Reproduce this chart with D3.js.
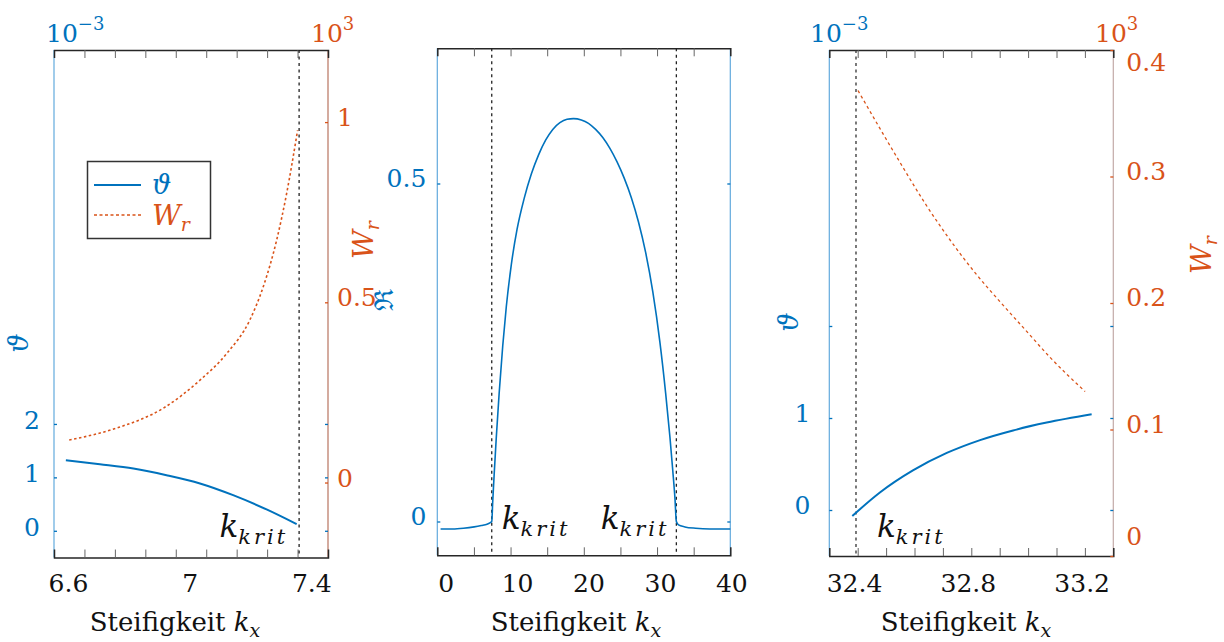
<!DOCTYPE html>
<html>
<head>
<meta charset="utf-8">
<script src="https://cdn.jsdelivr.net/npm/d3@7"></script>
<style>
  html, body { margin: 0; padding: 0; background: #fff; }
  svg { display: block; }
</style>
</head>
<body>
<svg id="chart" width="1224" height="642" font-family="DejaVu Serif, serif"></svg>
<script>
// ---------- data ----------
// left panel: neighbourhood of the lower critical stiffness
const leftThetaK = [6.593, 6.705, 6.815, 6.924, 7.034, 7.143, 7.253, 7.352];
const leftTheta  = [1.321, 1.247, 1.166, 1.041, 0.886, 0.667, 0.400, 0.125];   // x 10^-3
const leftWrK    = [6.604, 6.760, 6.913, 7.034, 7.122, 7.198, 7.242, 7.286, 7.319, 7.355];
const leftWr     = [0.118, 0.151, 0.206, 0.284, 0.358, 0.451, 0.543, 0.672, 0.802, 0.977]; // x 10^3
const leftKKrit  = 7.36;

// middle panel: real part over the full stiffness range
const midK  = [-0.7, 1.0, 2.5, 4.0, 5.0, 5.8, 6.2, 6.46, 6.6, 6.8, 7.1, 7.5, 8.0, 8.5, 9.2, 10.0,
               11.0, 12.0, 13.0, 14.0, 15.0, 16.0, 17.0, 17.9, 19.0, 20.0, 21.0, 22.0, 23.0, 24.0,
               25.0, 26.0, 27.0, 28.0, 29.0, 30.0, 30.8, 31.4, 31.8, 32.1, 32.3, 32.6, 33.5, 35.0,
               37.0, 39.85];
const midRe = [-0.011, -0.011, -0.010, -0.008, -0.006, -0.004, -0.002, 0.0, 0.03, 0.07, 0.125, 0.19,
               0.26, 0.318, 0.38, 0.432, 0.478, 0.514, 0.542, 0.564, 0.58, 0.59, 0.595, 0.596, 0.594,
               0.589, 0.58, 0.568, 0.552, 0.532, 0.508, 0.479, 0.443, 0.398, 0.34, 0.265, 0.19, 0.125,
               0.075, 0.035, 0.0, -0.005, -0.008, -0.010, -0.011, -0.011];
const midKKrit = [6.46, 32.3];

// right panel: neighbourhood of the upper critical stiffness
const rightThetaK = [32.394, 32.491, 32.607, 32.726, 32.843, 32.959, 33.077, 33.235];
const rightTheta  = [-0.065, 0.19, 0.43, 0.62, 0.76, 0.865, 0.95, 1.04];
const rightWrK    = [32.414, 32.491, 32.562, 32.649, 32.737, 32.825, 32.913, 33.001, 33.089, 33.212];
const rightWr     = [0.368, 0.338, 0.311, 0.279, 0.250, 0.224, 0.201, 0.179, 0.157, 0.130];
const rightKKrit  = 32.407;

// tick labels
const leftXTicks      = [6.6, 7, 7.4];
const leftThetaTicks  = [0, 1, 2];
const leftWrTicks     = [0, 0.5, 1];
const midXTicks       = [0, 10, 20, 30, 40];
const midReTicks      = [0, 0.5];
const rightXTicks     = [32.4, 32.8, 33.2];
const rightThetaTicks = [0, 1, 2];
const rightThetaLabels = [0, 1];
const rightWrTicks    = [0, 0.1, 0.2, 0.3, 0.4];

// ---------- style ----------
const BLUE = "#0072BD", ORANGE = "#D95319";
const AX_BLUE = "#62aadd", AX_BROWN = "#b8735f", AX_GREY = "#c2aaa7", FRAME = "#262626";
const FONT = "DejaVu Serif";
const FS = 25;

const svg = d3.select("#chart");

function fmt(v) { return d3.format("~g")(v); }

// frame: top and bottom axes with evenly spaced unlabelled ticks
function frame(g, x0, x1, y0, y1, nDiv) {
  const s = d3.scaleLinear().domain([0, nDiv]).range([x0, x1]);
  const inner = d3.range(1, nDiv);
  const top = g.append("g").attr("transform", `translate(0,${y0})`)
    .call(d3.axisBottom(s).tickValues(inner).tickSize(8).tickFormat(""));
  const bot = g.append("g").attr("transform", `translate(0,${y1})`)
    .call(d3.axisTop(s).tickValues(inner).tickSize(8).tickFormat(""));
  [top, bot].forEach(a => {
    a.select(".domain").attr("stroke", FRAME).attr("stroke-width", 1.5);
    a.selectAll(".tick line").attr("stroke", "#666").attr("stroke-width", 1);
  });
}

function vline(g, x, y0, y1, color) {
  g.append("line").attr("x1", x).attr("x2", x).attr("y1", y0).attr("y2", y1)
    .attr("stroke", color).attr("stroke-width", 1.2);
}

// y axis with inward ticks; labels optionally shifted
function yAxis(g, scale, xPos, side, values, labels, color, tickColor, pad, shift) {
  const ax = (side === "left" ? d3.axisLeft(scale) : d3.axisRight(scale))
    .tickValues(values).tickSize(-3).tickPadding(pad)
    .tickFormat(v => (labels && labels.includes(v)) ? fmt(v) : "");
  const a = g.append("g").attr("transform", `translate(${xPos},0)`).call(ax);
  a.select(".domain").remove();
  a.attr("font-family", FONT);
  a.selectAll(".tick line").attr("stroke", tickColor).attr("stroke-width", 1.3);
  a.selectAll(".tick text").attr("fill", color).attr("font-size", FS)
    .attr("font-family", FONT).attr("dy", null)
    .attr("y", d => shift(d)).attr("dominant-baseline", "central");
  return a;
}

function xLabels(g, scale, y, values) {
  const a = g.append("g").attr("transform", `translate(0,${y})`)
    .call(d3.axisBottom(scale).tickValues(values).tickSize(0).tickPadding(0).tickFormat(fmt));
  a.select(".domain").remove();
  a.attr("font-family", FONT);
  a.selectAll(".tick text").attr("fill", "#111").attr("font-size", FS)
    .attr("font-family", FONT).attr("dy", null).attr("y", 0);
}

function kLabel(g, x, y, anchor) {
  const t = g.append("text").attr("x", x).attr("y", y).attr("text-anchor", anchor)
    .attr("fill", "#111").attr("font-style", "italic").attr("font-family", FONT);
  t.append("tspan").attr("font-size", 31).text("k");
  t.append("tspan").attr("font-size", 21).attr("dy", 7).attr("letter-spacing", 3).text("krit");
}

function xTitle(g, cx) {
  const t = g.append("text").attr("x", cx).attr("y", 631).attr("text-anchor", "middle")
    .attr("fill", "#111").attr("font-size", 26).attr("font-family", FONT);
  t.append("tspan").text("Steifigkeit ");
  t.append("tspan").attr("font-style", "italic").text("k");
  t.append("tspan").attr("font-style", "italic").attr("font-size", 19).attr("dy", 6).text("x");
}

function power(g, x, y, exp, color) {
  const t = g.append("text").attr("x", x).attr("y", y).attr("fill", color).attr("font-size", FS)
    .attr("font-family", FONT);
  t.append("tspan").text("10");
  t.append("tspan").attr("font-size", 18).attr("dy", -12).text(exp);
}

function rotLabel(g, cx, cy, color, parts) {
  const t = g.append("text").attr("transform", `translate(${cx},${cy}) rotate(-90)`)
    .attr("text-anchor", "middle").attr("fill", color).attr("dy", "0.35em").attr("font-family", FONT);
  parts(t);
}

function thetaLabel(t) { t.append("tspan").attr("font-style", "italic").attr("font-size", 27).text("\u03D1"); }
function wrLabel(t) {
  t.append("tspan").attr("font-style", "italic").attr("font-size", 28).text("W");
  t.append("tspan").attr("font-style", "italic").attr("font-size", 19).attr("dy", 6).text("r");
}

const lineGen = (x, y) => d3.line().x(d => x(d[0])).y(d => y(d[1])).curve(d3.curveMonotoneX);

// ---------- left panel ----------
{
  const L = 54, R = 328, T = 50, B = 557.5;
  const g = svg.append("g");
  const x = d3.scaleLinear().domain([6.554, 7.455]).range([L, R]);
  const yT = d3.scaleLinear().domain([-0.5, 9]).range([B, T]);
  const yW = d3.scaleLinear().domain([-0.208, 1.2]).range([B, T]);

  vline(g, L, T, B, AX_BLUE);
  vline(g, R, T, B, AX_BROWN);
  frame(g, L, R, T, B, 9);

  yAxis(g, yT, L, "left", leftThetaTicks, leftThetaTicks, BLUE, BLUE, 14, () => -4);
  yAxis(g, yT, R, "right", leftThetaTicks, null, BLUE, BLUE, 0, () => 0);
  yAxis(g, yW, R, "right", leftWrTicks, leftWrTicks, ORANGE, ORANGE, 9, () => -5);

  g.append("line").attr("x1", x(leftKKrit)).attr("x2", x(leftKKrit)).attr("y1", T).attr("y2", B)
    .attr("stroke", "#222").attr("stroke-width", 1.3).attr("stroke-dasharray", "3,3.5");

  g.append("path").datum(d3.zip(leftWrK, leftWr)).attr("d", lineGen(x, yW))
    .attr("fill", "none").attr("stroke", ORANGE).attr("stroke-width", 1.6).attr("stroke-dasharray", "2.5,2.5");
  g.append("path").datum(d3.zip(leftThetaK, leftTheta)).attr("d", lineGen(x, yT))
    .attr("fill", "none").attr("stroke", BLUE).attr("stroke-width", 2);

  xLabels(g, x, 592, leftXTicks);
  kLabel(g, x(leftKKrit) - 11, 537, "end");
  xTitle(g, 175);
  power(g, 46, 42, "\u22123", BLUE);
  power(g, 311, 42, "3", ORANGE);
  rotLabel(g, 22, 343, BLUE, thetaLabel);
  rotLabel(g, 367, 240, ORANGE, wrLabel);

  // legend
  const lg = g.append("g").attr("font-family", FONT);
  lg.append("rect").attr("x", 87.5).attr("y", 161.5).attr("width", 123).attr("height", 77)
    .attr("fill", "#fff").attr("stroke", "#333").attr("stroke-width", 1.5);
  lg.append("line").attr("x1", 94).attr("x2", 141).attr("y1", 185).attr("y2", 185)
    .attr("stroke", BLUE).attr("stroke-width", 2);
  lg.append("text").attr("x", 152).attr("y", 194).attr("fill", BLUE).attr("font-size", 27)
    .attr("font-style", "italic").text("\u03D1");
  lg.append("line").attr("x1", 94).attr("x2", 141).attr("y1", 215).attr("y2", 215)
    .attr("stroke", ORANGE).attr("stroke-width", 1.4).attr("stroke-dasharray", "3,2.5");
  const wt = lg.append("text").attr("x", 152).attr("y", 225).attr("fill", ORANGE).attr("font-style", "italic");
  wt.append("tspan").attr("font-size", 28).text("W");
  wt.append("tspan").attr("font-size", 19).attr("dy", 6).text("r");
}

// ---------- middle panel ----------
{
  const L = 437.3, R = 730.3, T = 48.3, B = 555.3;
  const g = svg.append("g");
  const x = d3.scaleLinear().domain([-1.16, 39.85]).range([L, R]);
  const y = d3.scaleLinear().domain([-0.05, 0.7]).range([B, T]);

  vline(g, L, T, B, AX_BLUE);
  vline(g, R, T, B, AX_BLUE);
  frame(g, L, R, T, B, 8);

  yAxis(g, y, L, "left", midReTicks, midReTicks, BLUE, BLUE, 11, () => -6);
  yAxis(g, y, R, "right", midReTicks, null, BLUE, BLUE, 0, () => 0);

  midKKrit.forEach(k => {
    g.append("line").attr("x1", x(k)).attr("x2", x(k)).attr("y1", T).attr("y2", B)
      .attr("stroke", "#222").attr("stroke-width", 1.3).attr("stroke-dasharray", "3,3.5");
  });

  g.append("path").datum(d3.zip(midK, midRe)).attr("d", lineGen(x, y))
    .attr("fill", "none").attr("stroke", BLUE).attr("stroke-width", 1.6);

  xLabels(g, x, 592, midXTicks);
  kLabel(g, x(midKKrit[0]) + 10, 529, "start");
  kLabel(g, x(midKKrit[1]) - 7, 529, "end");
  xTitle(g, 576);
  rotLabel(g, 387, 300, BLUE, t => t.append("tspan").attr("font-size", 26).text("\u211C"));
}

// ---------- right panel ----------
{
  const L = 829.3, R = 1113.3, T = 50, B = 556;
  const g = svg.append("g");
  const x = d3.scaleLinear().domain([32.3132, 33.3111]).range([L, R]);
  const yT = d3.scaleLinear().domain([-0.5, 5]).range([B, T]);
  const yW = d3.scaleLinear().domain([0, 0.4]).range([B, T]);

  vline(g, L, T, B, AX_BLUE);
  vline(g, R, T, B, AX_GREY);
  frame(g, L, R, T, B, 10);

  yAxis(g, yT, L, "left", rightThetaTicks, rightThetaLabels, BLUE, BLUE, 19, () => -5);
  yAxis(g, yT, R, "right", rightThetaTicks, null, BLUE, BLUE, 0, () => 0);
  yAxis(g, yW, R, "right", rightWrTicks, rightWrTicks, ORANGE, ORANGE, 13,
        d => d === 0.4 ? 12 : (d === 0 ? -20 : -6));

  g.append("line").attr("x1", x(rightKKrit)).attr("x2", x(rightKKrit)).attr("y1", T).attr("y2", B)
    .attr("stroke", "#333").attr("stroke-width", 1.3).attr("stroke-dasharray", "3,3.5");

  g.append("path").datum(d3.zip(rightWrK, rightWr)).attr("d", lineGen(x, yW))
    .attr("fill", "none").attr("stroke", ORANGE).attr("stroke-width", 1.3).attr("stroke-dasharray", "3,3");
  g.append("path").datum(d3.zip(rightThetaK, rightTheta)).attr("d", lineGen(x, yT))
    .attr("fill", "none").attr("stroke", BLUE).attr("stroke-width", 2);

  xLabels(g, x, 592, rightXTicks);
  kLabel(g, x(rightKKrit) + 21, 537, "start");
  xTitle(g, 966);
  power(g, 810, 42, "\u22123", BLUE);
  power(g, 1095, 42, "3", ORANGE);
  rotLabel(g, 792, 322, BLUE, thetaLabel);
  rotLabel(g, 1205, 255, ORANGE, wrLabel);
}
</script>
</body>
</html>
